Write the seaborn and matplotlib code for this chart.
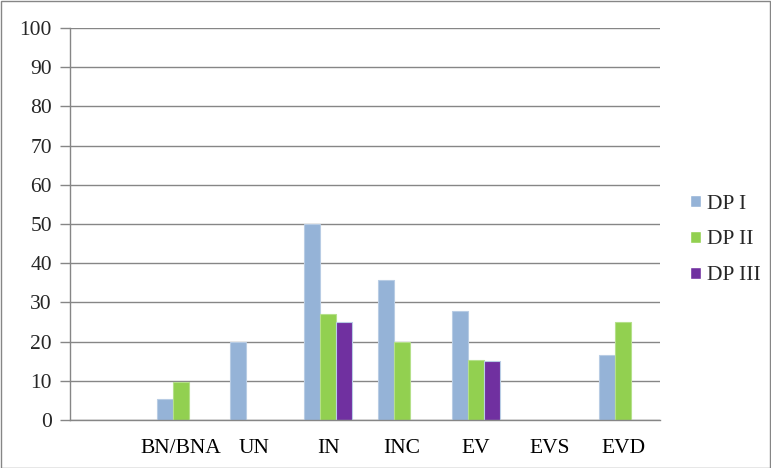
import numpy as np
import pandas as pd
import matplotlib
matplotlib.use("Agg")
import matplotlib.pyplot as plt
import seaborn as sns
from matplotlib.patches import Rectangle

# ---- data ----
categories = ["", "BN/BNA", "UN", "IN", "INC", "EV", "EVS", "EVD"]
dp1 = [np.nan, 5.3, 20.0, 50.0, 35.6, 27.7, np.nan, 16.6]
dp2 = [np.nan, 9.6, np.nan, 27.1, 20.0, 15.4, np.nan, 25.0]
dp3 = [np.nan, np.nan, np.nan, 25.0, np.nan, 15.0, np.nan, np.nan]
series = ["DP I", "DP II", "DP III"]

df = pd.DataFrame({"cat": categories, "DP I": dp1, "DP II": dp2, "DP III": dp3})
long = df.melt(id_vars="cat", var_name="series", value_name="val")

colors = {"DP I": "#95B3D7", "DP II": "#92D050", "DP III": "#7030A0"}
edges = {"DP I": "#B8CCE4", "DP II": "#B5E08A", "DP III": "#B9CDE5"}
grid_c = "#868686"
fs = 15.5

sns.set_theme(style="white")
plt.rcParams["font.family"] = ["Liberation Serif", "DejaVu Serif"]

fig = plt.figure(figsize=(7.71, 4.68), dpi=100)
ax = fig.add_axes([70 / 771, 1 - 420 / 468, 590 / 771, 392 / 468])

sns.barplot(data=long, x="cat", y="val", hue="series", order=categories,
            hue_order=series, palette=colors, width=0.65, ax=ax,
            errorbar=None, saturation=1)

# light edges like the original
for cont, s in zip(ax.containers, series):
    for b in cont:
        b.set_edgecolor(edges[s])
        b.set_linewidth(0.8)

ax.set_xlim(-0.5, len(categories) - 0.5)
ax.set_ylim(0, 100)
ax.set_yticks(range(0, 101, 10))
ax.set_xlabel("")
ax.set_ylabel("")

ax.grid(axis="y", color=grid_c, linewidth=1)
ax.set_axisbelow(True)
for s in ["top", "right"]:
    ax.spines[s].set_visible(False)
for s in ["left", "bottom"]:
    ax.spines[s].set_color(grid_c)
    ax.spines[s].set_linewidth(1)

ax.set_xticks(np.arange(-0.5, len(categories), 1), minor=True)
ax.tick_params(axis="x", which="major", length=0, pad=14, labelsize=fs, colors="black")
ax.tick_params(axis="x", which="minor", length=7, width=1, color=grid_c, direction="out")
ax.tick_params(axis="y", length=7, width=1, color=grid_c, direction="out", pad=6,
               labelsize=fs, left=True)

leg = ax.legend(loc="center left", bbox_to_anchor=(679 / 771, 1 - 240 / 468),
                bbox_transform=fig.transFigure, frameon=False, fontsize=fs,
                handlelength=0.5, handleheight=0.5, handletextpad=0.3,
                labelspacing=0.78, borderpad=0)

fig.add_artist(Rectangle((0.5 / 771, 0.5 / 468), 1 - 1.5 / 771, 1 - 1.5 / 468,
                         transform=fig.transFigure, fill=False,
                         edgecolor=grid_c, linewidth=1))

fig.savefig("out.png", dpi=100)
